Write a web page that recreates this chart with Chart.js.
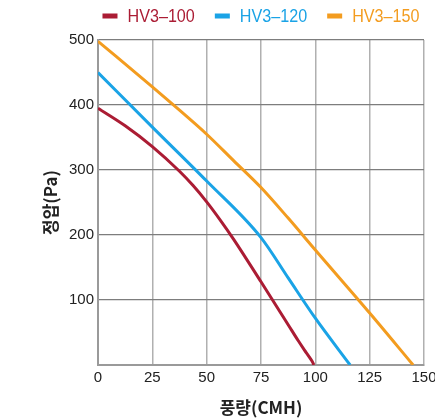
<!DOCTYPE html>
<html>
<head>
<meta charset="utf-8">
<script src="https://cdn.jsdelivr.net/npm/chart.js@4/dist/chart.umd.min.js"></script>
<style>
  html, body { margin: 0; padding: 0; background: #ffffff; }
  #wrap { width: 435px; height: 418px; position: relative; }
</style>
</head>
<body>
<div id="wrap"><canvas id="c" width="435" height="418"></canvas></div>
<script>
const seriesNames = ['HV3–100', 'HV3–120', 'HV3–150'];
const seriesColors = ['#ab1c34', '#1aa3e6', '#f39c1f'];

const redX = [0, 12.5, 25, 37.5, 43.75, 50, 56.25, 62.5, 75, 87.5, 92, 95, 97.5, 98.8, 99.3];
const redY = [395, 368, 336, 298, 276, 251, 223, 193, 128, 62, 38, 23, 11, 4, 0];

const blueX = [0, 25, 50, 75, 87.5, 100, 116];
const blueY = [450, 366, 283, 196, 134, 72, 0];

const orangeX = [0, 25, 37.5, 50, 62.5, 75, 87.5, 100, 125, 145];
const orangeY = [498, 428, 392, 355, 314, 273, 226, 177, 80, 0];

const xTicks = [0, 25, 50, 75, 100, 125, 150];
const yTicks = [0, 100, 200, 300, 400, 500];
const xTitle = '풍량(CMH)';
const yTitle = '정압(Pa)';

function pts(xs, ys) { return xs.map((x, i) => ({ x: x, y: ys[i] })); }

const allX = [redX, blueX, orangeX];
const allY = [redY, blueY, orangeY];

const datasets = seriesNames.map((name, i) => ({
  label: name,
  data: pts(allX[i], allY[i]),
  borderColor: seriesColors[i],
  backgroundColor: seriesColors[i],
  borderWidth: 3,
  pointRadius: 0,
  fill: false,
  cubicInterpolationMode: 'monotone',
  showLine: true
}));

// Legend drawn from the datasets (labels + colours), condensed like the reference
const legendPlugin = {
  id: 'topLegend',
  afterDraw(chart) {
    const ctx = chart.ctx;
    const area = chart.chartArea;
    const ds = chart.data.datasets;
    const boxW = 15, boxH = 5, gapBoxText = 10, gapItems = 20, squeeze = 0.85;
    ctx.save();
    ctx.font = "19px 'Liberation Sans', Arial, sans-serif";
    ctx.textBaseline = 'middle';
    ctx.textAlign = 'left';
    const widths = ds.map(d => ctx.measureText(d.label).width * squeeze);
    const total = widths.reduce((a, w) => a + boxW + gapBoxText + w, 0) + gapItems * (ds.length - 1);
    let x = (area.left + area.right) / 2 - total / 2;
    const cy = 16;
    ds.forEach((d, i) => {
      ctx.fillStyle = d.borderColor;
      ctx.fillRect(x, cy - boxH / 2, boxW, boxH);
      x += boxW + gapBoxText;
      ctx.fillText(d.label, x, cy + 1, widths[i]);
      x += widths[i] + gapItems;
    });
    ctx.restore();
  }
};

const numFont = { family: "'Liberation Sans', Arial, sans-serif", size: 15 };
const korFont = { family: "'Noto Sans CJK KR', 'Liberation Sans', sans-serif", size: 17, weight: 'bold' };

new Chart(document.getElementById('c'), {
  type: 'scatter',
  data: { datasets: datasets },
  plugins: [legendPlugin],
  options: {
    responsive: false,
    animation: false,
    devicePixelRatio: 1,
    layout: { padding: { top: 40, left: 0, right: 11, bottom: 0 } },
    plugins: {
      tooltip: { enabled: false },
      legend: { display: false }
    },
    scales: {
      x: {
        type: 'linear',
        min: 0,
        max: 150,
        afterBuildTicks: (s) => { s.ticks = xTicks.map(v => ({ value: v })); },
        afterFit: (s) => { s.height = 53; s.paddingRight = 11; },
        ticks: { font: numFont, color: '#222222', padding: 4, maxRotation: 0 },
        grid: { color: '#b0b0b0', lineWidth: 1.5, drawTicks: false },
        border: { display: true, color: '#9a9a9a', width: 2 },
        title: { display: true, text: xTitle, font: korFont, color: '#222222', padding: { top: 1, bottom: 0 } }
      },
      y: {
        type: 'linear',
        min: 0,
        max: 500,
        afterBuildTicks: (s) => { s.ticks = yTicks.map(v => ({ value: v })); },
        afterFit: (s) => { s.width = 98; },
        ticks: {
          font: numFont, color: '#222222', padding: 4,
          callback: (v) => (v === 0 ? '' : String(v))
        },
        grid: { color: '#7d7d7d', lineWidth: 1.2, drawTicks: false },
        border: { display: true, color: '#9a9a9a', width: 2 },
        title: { display: true, text: yTitle, font: korFont, color: '#222222', padding: { top: 40, bottom: 0 } }
      }
    }
  }
});
</script>
</body>
</html>
